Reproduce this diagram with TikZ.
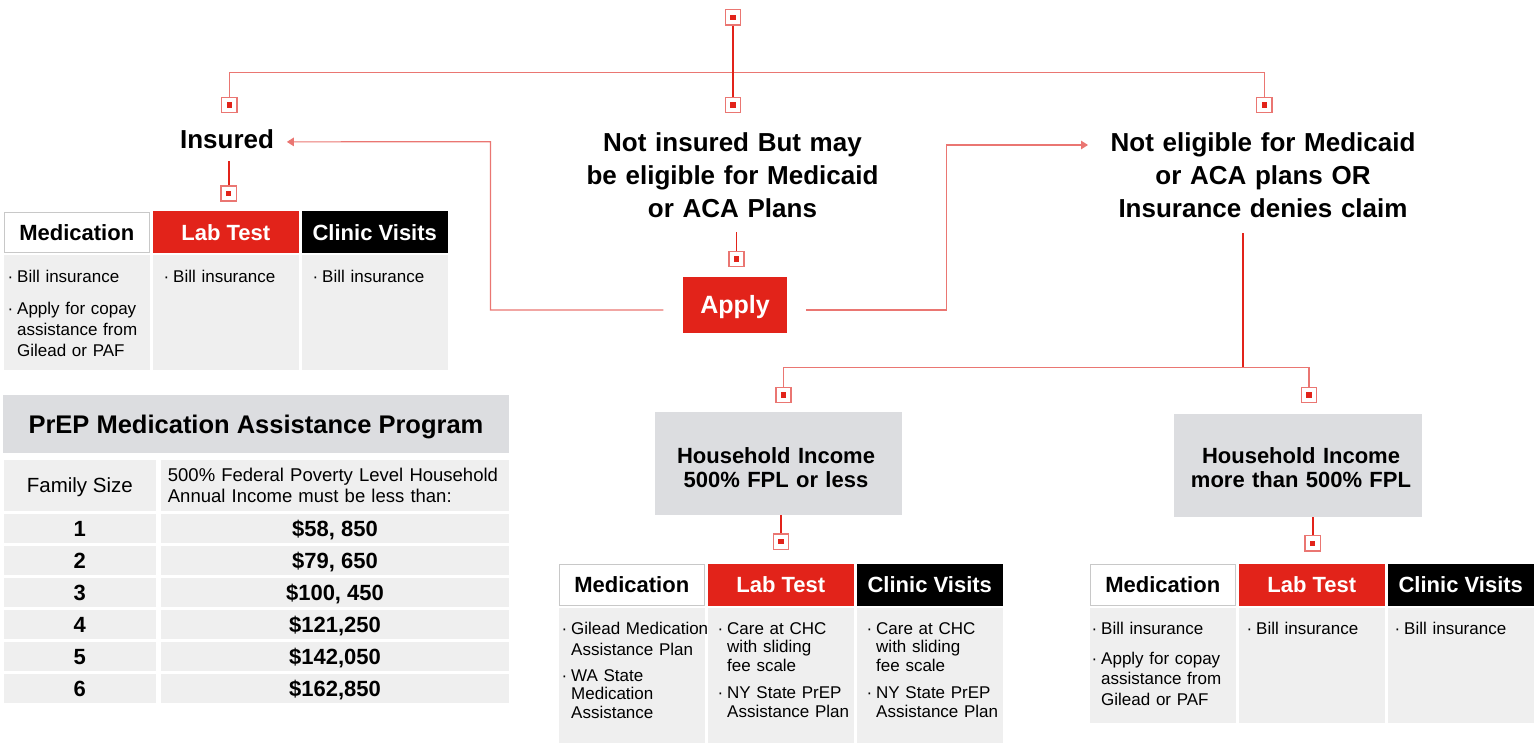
\documentclass[tikz,border=0pt]{standalone}
\usepackage{fontspec}
\setmainfont{Liberation Sans}
\usetikzlibrary{arrows.meta}
\definecolor{redA}{HTML}{E2231A}
\definecolor{redL}{HTML}{EA7672}
\definecolor{grayT}{HTML}{DCDDE0}
\definecolor{grayB}{HTML}{EFEFEF}
\definecolor{grayE}{HTML}{C8C8C8}
\newcommand\fs[2]{\fontsize{#1}{#2}\selectfont}
\tikzset{
 mk/.style={draw=redL, line width=1.3pt, fill=white, minimum size=15.2pt, inner sep=0pt,
   path picture={\fill[redA] ([xshift=-2.6pt,yshift=-2.6pt]path picture bounding box.center) rectangle ([xshift=2.6pt,yshift=2.6pt]path picture bounding box.center);}},
 dk/.style={draw=redA, line width=1.7pt},
 lt/.style={draw=redL, line width=1.2pt},
 head/.style={font=\fs{26}{33}\bfseries, text width=360pt, align=center, inner sep=0pt},
 hbox/.style={minimum width=145.5pt, minimum height=42pt, inner sep=0pt, font=\fs{22}{26}\bfseries, text height=15.8pt, text depth=0pt},
 btxt/.style={text width=150pt, align=left, inner sep=0pt},
 pcell/.style={minimum height=29pt, inner sep=0pt, font=\fs{22}{26}\bfseries, text height=15.75pt, text depth=0pt, fill=grayB},
 hhbox/.style={fill=grayT, inner sep=0pt},
 hhtxt/.style={font=\fs{22}{24}\bfseries, text width=240pt, align=center, inner sep=0pt},
 tip/.style={-{Triangle[length=7pt,width=8.5pt]}}
}
% three-column table: #1 prefix, #2 left x, #3 header top, #4 body bottom
\newcommand\tritab[4]{%
 \node[hbox, fill=white, draw=grayE, line width=0.9pt, minimum width=144.6pt, minimum height=40.9pt] (#1m) at ({#2+72.75},{#3+21}) {Medication};
 \node[hbox, fill=redA, text=white] (#1l) at ({#2+149+72.75},{#3+21}) {Lab Test};
 \node[hbox, fill=black, text=white] (#1c) at ({#2+298+72.75},{#3+21}) {Clinic Visits};
 \foreach \cc in {0,149,298} {\fill[grayB] ({#2+\cc},{#3+44}) rectangle ({#2+\cc+145.5},#4);}
}
% bullet item: #1 name, #2 x, #3 baseline y, #4 line skip, #5 text
\newcommand\bitem[5]{%
 \node[btxt, font=\fs{17}{#4}, anchor=base west] (#1) at (#2,#3) {#5};
 \node[inner sep=0pt, font=\fs{17}{20}, anchor=base] (#1d) at ([xshift=-6.5pt]#1.base west) {·};
}
% PrEP table row: #1 name, #2 top, #3 size, #4 income
\newcommand\prow[4]{%
 \node[pcell, minimum width=151.7pt] (#1a) at (79.85,{#2+14.5}) {#3};
 \node[pcell, minimum width=348pt] (#1b) at (335,{#2+14.5}) {#4};
}
\begin{document}
\begin{tikzpicture}[x=1pt,y=-1pt]
\useasboundingbox (0,0) rectangle (1536,743);

% markers
\node[mk] (m0) at (733,17.3) {};
\node[mk] (m1) at (229.3,105) {};
\node[mk] (m2) at (733,105) {};
\node[mk] (m3) at (1264.3,105) {};
\node[mk] (m4) at (228.7,193.5) {};
\node[mk] (m5) at (736.5,259) {};
\node[mk] (m6) at (783.5,395) {};
\node[mk] (m7) at (1309,395) {};
\node[mk] (m8) at (781,541.7) {};
\node[mk] (m9) at (1312.7,543.3) {};

% headings
\node[font=\fs{26}{33}\bfseries, inner sep=0pt, anchor=base] (ins) at (227,149) {Insured};
\node[head, anchor=base] (h2) at (732.5,152) {Not insured But may\\be eligible for Medicaid\\or ACA Plans};
\node[head, anchor=base] (h3) at (1263,152) {Not eligible for Medicaid\\or ACA plans OR\\Insurance denies claim};

% apply
\node[fill=redA, text=white, minimum width=104pt, minimum height=56pt, inner sep=0pt,
      font=\fs{25}{30}\bfseries, text height=17.9pt, text depth=0pt] (ap) at (735,305) {Apply};

% household boxes
\node[hhbox, minimum width=247pt, minimum height=103pt] (hh1) at (778.5,463.5) {};
\node[hhtxt, anchor=base] (hh1t) at (776,463) {Household Income\\500\% FPL or less};
\node[hhbox, minimum width=248pt, minimum height=102.7pt] (hh2) at (1298,465.3) {};
\node[hhtxt, anchor=base] (hh2t) at (1301,463) {Household Income\\more than 500\% FPL};

% coordinates
\coordinate (k1) at (490.5,141.7);
\coordinate (k3) at (946.4,145);
\coordinate (k4) at (1088,145);
\coordinate (j) at (1243,367.7);

% connectors
\draw[lt] (m1.north) -- ++(0,-24.3) -| (m3.north);
\draw[dk] (m0.south) -- (m2.north);
\draw[dk] (m4.north) -- ++(0,-24);
\draw[dk] (m5.north) -- ++(0,-18.5);
\draw[lt,tip] ([xshift=-19.5pt,yshift=-5pt]ap.west) -| (k1) -- ([xshift=12.7pt,yshift=-2.2pt]ins.east);
\draw[lt,tip] ([xshift=18.6pt,yshift=-5pt]ap.east) -| (k3) -- (k4);
\draw[dk] (j) -- ++(0,-134.7);
\draw[lt] (m6.north) -- ++(0,-19.3) -| (m7.north);
\draw[dk] (m8.north) -- (hh1.south -| m8.north);
\draw[dk] (m9.north) -- (hh2.south -| m9.north);

% tables
\tritab{tl}{4}{211.5}{370}
\tritab{bm}{559}{564}{743}
\tritab{br}{1090}{564}{722.7}

\bitem{tlm1}{17}{283}{20}{Bill insurance}
\bitem{tlm2}{17}{314}{21}{Apply for copay\\assistance from\\Gilead or PAF}
\bitem{tll1}{173}{283}{20}{Bill insurance}
\bitem{tlc1}{322}{283}{20}{Bill insurance}

\bitem{bmm1}{571}{634}{21}{Gilead Medication\\Assistance Plan}
\bitem{bmm2}{571}{681}{18.5}{WA State\\Medication\\Assistance}
\bitem{bml1}{727}{634}{18.5}{Care at CHC\\with sliding\\fee scale}
\bitem{bml2}{727}{698}{19}{NY State PrEP\\Assistance Plan}
\bitem{bmc1}{876}{634}{18.5}{Care at CHC\\with sliding\\fee scale}
\bitem{bmc2}{876}{698}{19}{NY State PrEP\\Assistance Plan}

\bitem{brm1}{1101}{634}{20}{Bill insurance}
\bitem{brm2}{1101}{664}{20.5}{Apply for copay\\assistance from\\Gilead or PAF}
\bitem{brl1}{1256}{634}{20}{Bill insurance}
\bitem{brc1}{1404}{634}{20}{Bill insurance}

% PrEP table
\node[fill=grayT, minimum width=506pt, minimum height=58.3pt, inner sep=0pt,
      font=\fs{25.5}{30}\bfseries, text height=18.3pt, text depth=0pt] (pt) at (256,424.2) {PrEP Medication Assistance Program};
\node[fill=grayB, minimum width=151.7pt, minimum height=50.7pt, inner sep=0pt,
      font=\fs{20.5}{24}, text height=14.7pt, text depth=0pt] (pfs) at (79.85,485.35) {Family Size};
\node[fill=grayB, minimum width=348pt, minimum height=50.7pt, inner sep=0pt] (pinc) at (335,485.35) {};
\node[font=\fs{18.5}{21}, text width=340pt, align=left, inner sep=0pt, anchor=base west] (pinct) at (167.7,481.7)
  {500\% Federal Poverty Level Household\\Annual Income must be less than:};
\prow{r1}{514}{1}{\$58, 850}
\prow{r2}{546}{2}{\$79, 650}
\prow{r3}{578}{3}{\$100, 450}
\prow{r4}{610}{4}{\$121,250}
\prow{r5}{642}{5}{\$142,050}
\prow{r6}{674}{6}{\$162,850}
\end{tikzpicture}
\end{document}
